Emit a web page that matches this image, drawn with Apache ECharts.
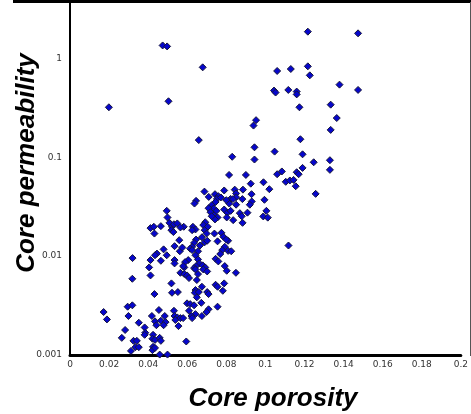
<!DOCTYPE html>
<html>
<head>
<meta charset="utf-8">
<script src="https://cdn.jsdelivr.net/npm/echarts@6/dist/echarts.min.js"></script>
<style>
  html, body { margin: 0; padding: 0; background: #fff; }
  #chart { width: 471px; height: 414px; }
</style>
</head>
<body>
<div id="chart"></div>
<script>
// Core porosity (fraction) vs core permeability
var porosity = [
  0.0474, 0.0497, 0.0679, 0.0199, 0.0504, 0.0659, 0.1217, 0.1474, 0.106, 0.113,
  0.1217, 0.1227, 0.1044, 0.1052, 0.1117, 0.116, 0.116, 0.1379, 0.1474, 0.1174,
  0.1334, 0.1365, 0.1334, 0.0952, 0.0939, 0.1179, 0.0944, 0.083, 0.1047, 0.0944,
  0.119, 0.1247, 0.133, 0.133, 0.119, 0.0814, 0.09, 0.106, 0.1084, 0.116,
  0.117, 0.099, 0.0925, 0.1104, 0.1125, 0.1144, 0.1155, 0.102, 0.1257,
  0.0843, 0.085, 0.085, 0.0822, 0.0834, 0.0815, 0.085, 0.080, 0.0885, 0.0882,
  0.093, 0.0929, 0.092, 0.0869, 0.0879, 0.0908, 0.0995, 0.1005, 0.0989, 0.1012,
  0.0883, 0.0688, 0.0645, 0.0637, 0.071, 0.0742, 0.0759, 0.0752, 0.0745, 0.0772,
  0.0789, 0.0725, 0.0735, 0.0709, 0.0719, 0.0749, 0.0737, 0.0755, 0.0742, 0.0725,
  0.0789, 0.0805, 0.0802, 0.0822, 0.0835, 0.0692, 0.0682, 0.0705, 0.0689, 0.0699,
  0.0629, 0.0642, 0.0582, 0.0625, 0.0739, 0.0775, 0.0785, 0.0755, 0.0809, 0.0675,
  0.0645, 0.0635, 0.0625, 0.0615, 0.0625, 0.0689, 0.0665, 0.0702, 0.0792, 0.0779,
  0.0809, 0.0825, 0.0769, 0.0655, 0.0642, 0.0605, 0.0589, 0.0655, 0.0662, 0.0679,
  0.0692, 0.0645, 0.0635, 0.0745, 0.0759, 0.0792, 0.0585, 0.080, 0.1118,
  0.0495, 0.0499, 0.0509, 0.0412, 0.0429, 0.0432, 0.0465, 0.0522, 0.0519, 0.0529,
  0.0532, 0.0549, 0.0565, 0.0559, 0.0535, 0.0562, 0.0575, 0.0479, 0.0445, 0.0435,
  0.0495, 0.032, 0.0412, 0.0465, 0.0535, 0.0535, 0.0405, 0.0579,
  0.0412, 0.0319, 0.0565, 0.0519, 0.0522, 0.0552, 0.0432, 0.0295, 0.0319, 0.0299,
  0.0172, 0.0189, 0.0455, 0.0419, 0.0435, 0.0465, 0.0485, 0.0489, 0.0479, 0.0442,
  0.0532, 0.0535, 0.0549, 0.0539, 0.0555, 0.0565, 0.0352, 0.0382, 0.0385, 0.0382,
  0.0282, 0.0265, 0.0425, 0.0422, 0.0435, 0.0459, 0.0465, 0.0325, 0.0342, 0.0335,
  0.0352, 0.0425, 0.0422, 0.0435, 0.0312, 0.0459, 0.0499,
  0.0585, 0.0599, 0.0609, 0.0642, 0.0655, 0.0682, 0.0702, 0.0802, 0.0849, 0.0649,
  0.0745, 0.0755, 0.0789, 0.0782, 0.0675, 0.0642, 0.0639, 0.0659, 0.0649, 0.0702,
  0.0709, 0.0599, 0.0615, 0.0635, 0.0672, 0.0609, 0.0642, 0.0622, 0.0625, 0.0675,
  0.0709, 0.0699, 0.0755, 0.0579, 0.0595
];
var permeability = [
  1.35, 1.32, 0.811, 0.320, 0.368, 0.149, 1.86, 1.79, 0.745, 0.780,
  0.830, 0.673, 0.472, 0.451, 0.479, 0.461, 0.432, 0.542, 0.479, 0.320,
  0.340, 0.249, 0.189, 0.237, 0.209, 0.152, 0.126, 0.101, 0.114, 0.0948,
  0.107, 0.0889, 0.0933, 0.0745, 0.0780, 0.0662, 0.0662, 0.0673, 0.0718, 0.0705,
  0.0673, 0.0558, 0.0540, 0.0564, 0.0582, 0.0590, 0.0509, 0.0475, 0.0426,
  0.0470, 0.0430, 0.0394, 0.0379, 0.0377, 0.0340, 0.0331, 0.0368, 0.0470, 0.0377,
  0.0357, 0.0423, 0.0331, 0.0272, 0.0253, 0.0275, 0.0371, 0.0287, 0.0252, 0.0245,
  0.0217, 0.0449, 0.0362, 0.0340, 0.0397, 0.0423, 0.0404, 0.0379, 0.0353, 0.0392,
  0.0461, 0.0327, 0.0303, 0.0305, 0.0278, 0.0287, 0.0259, 0.0246, 0.0235, 0.0253,
  0.0296, 0.0274, 0.0246, 0.0287, 0.0231, 0.0220, 0.0206, 0.0198, 0.0183, 0.0169,
  0.0198, 0.0186, 0.0198, 0.0183, 0.0169, 0.0172, 0.0157, 0.0141, 0.0143, 0.0155,
  0.0147, 0.0136, 0.0124, 0.0119, 0.0115, 0.0138, 0.0128, 0.0143, 0.0124, 0.0115,
  0.0113, 0.0112, 0.0105, 0.0112, 0.0102, 0.00912, 0.00870, 0.00926, 0.00844, 0.00806,
  0.00769, 0.00793, 0.00757, 0.00939, 0.00884, 0.00793, 0.00769, 0.0147, 0.0128,
  0.0287, 0.0246, 0.0217, 0.0192, 0.0198, 0.0169, 0.0201, 0.0198, 0.0183, 0.0175,
  0.0210, 0.0214, 0.0195, 0.0145, 0.0126, 0.0112, 0.0122, 0.0117, 0.0106, 0.0102,
  0.0102, 0.00955, 0.00912, 0.00897, 0.00912, 0.00844, 0.00769, 0.00793,
  0.00638, 0.00590, 0.00678, 0.00530, 0.00426, 0.00433, 0.00413, 0.00308, 0.00318, 0.00248,
  0.00272, 0.00229, 0.00285, 0.00248, 0.00219, 0.00222, 0.00248, 0.00215, 0.00200, 0.00200,
  0.00280, 0.00248, 0.00240, 0.00226, 0.00196, 0.00236, 0.00212, 0.00190, 0.00168, 0.00160,
  0.00179, 0.00149, 0.00160, 0.00146, 0.00142, 0.00149, 0.00139, 0.00139, 0.00139, 0.00120,
  0.00120, 0.00121, 0.00112, 0.00118, 0.00110, 0.00101, 0.00101,
  0.00658, 0.00638, 0.00600, 0.00734, 0.00658, 0.00734, 0.00700, 0.00711, 0.00678, 0.00573,
  0.00513, 0.00490, 0.00530, 0.00446, 0.00490, 0.00454, 0.00426, 0.00433, 0.00383, 0.00433,
  0.00413, 0.00333, 0.00327, 0.00318, 0.00337, 0.00280, 0.00259, 0.00248, 0.00236, 0.00248,
  0.00290, 0.00272, 0.00308, 0.00236, 0.00137
];
var xTicks = [0, 0.2, 0.02];            // min, max, step
var yRange = [0.001, 3.8];

var pts = porosity.map(function (p, i) { return [p, permeability[i]]; });

var titleFont = 'bold italic 26px "Liberation Sans", Arial, sans-serif';

var myChart = echarts.init(document.getElementById('chart'));
var option = {
    animation: false,
    grid: { left: 70, right: 1, top: 1, bottom: 59 },
    xAxis: {
        type: 'value',
        min: xTicks[0],
        max: xTicks[1],
        interval: xTicks[2],
        axisLine: { show: true, lineStyle: { color: '#000', width: 3 } },
        axisTick: { show: false },
        splitLine: { show: false },
        axisLabel: { fontSize: 9, color: '#333', margin: 5, fontFamily: 'DejaVu Sans' }
    },
    yAxis: {
        type: 'log',
        logBase: 10,
        min: yRange[0],
        max: yRange[1],
        axisLine: { show: true, lineStyle: { color: '#000', width: 2 } },
        axisTick: { show: false },
        splitLine: { show: false },
        axisLabel: {
            fontSize: 9, color: '#333', margin: 8, fontFamily: 'DejaVu Sans',
            showMaxLabel: false,
            formatter: function (v) {
                var l = Math.log10(v);
                return Math.abs(l - Math.round(l)) < 1e-6 ? String(+v.toPrecision(3)) : '';
            }
        }
    },
    series: [{
        type: 'scatter',
        data: pts,
        symbol: 'diamond',
        symbolSize: 7,
        itemStyle: { color: '#0606cc', borderColor: '#15153a', borderWidth: 1, opacity: 1 }
    }],
    graphic: [
        { type: 'rect', shape: { x: 13, y: 0, width: 458, height: 3 }, style: { fill: '#000' } },
        { type: 'line', shape: { x1: 470.5, y1: 2, x2: 470.5, y2: 356 }, style: { stroke: '#555', lineWidth: 1 } },
        {
            type: 'text', x: 27, y: 163, rotation: Math.PI / 2,
            style: { text: 'Core permeability', font: titleFont, fill: '#000', align: 'center', verticalAlign: 'middle' }
        },
        {
            type: 'text', x: 273, y: 399,
            style: { text: 'Core porosity', font: titleFont, fill: '#000', align: 'center', verticalAlign: 'middle' }
        }
    ]
};
myChart.setOption(option);
</script>
</body>
</html>
